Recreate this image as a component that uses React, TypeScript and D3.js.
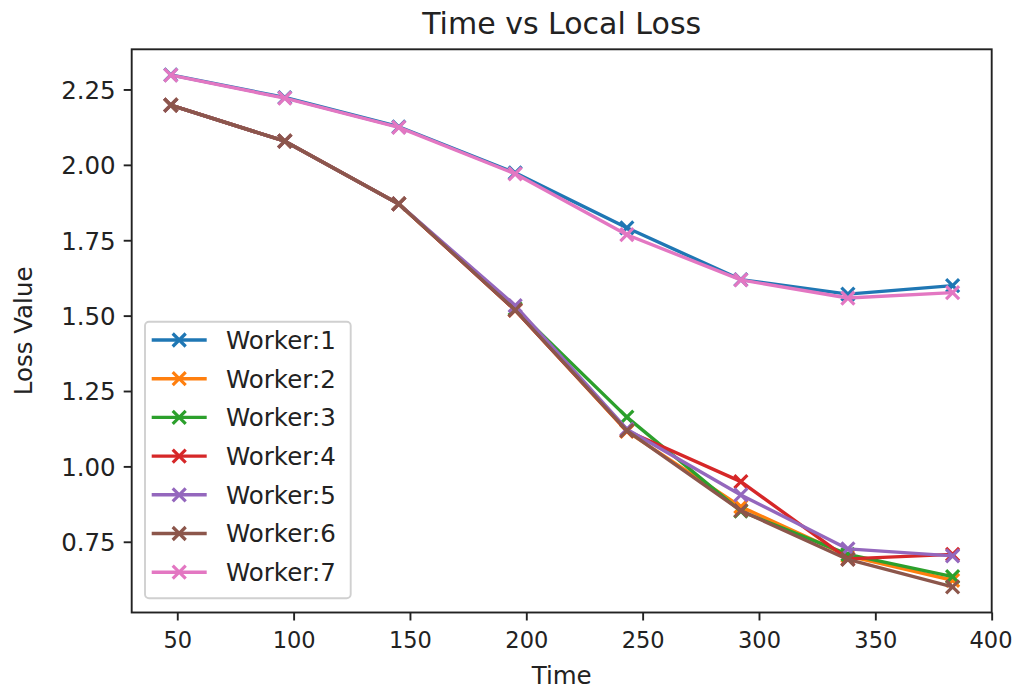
import React from "react";
import * as d3 from "d3";

const times = [47, 96, 145, 195, 243, 292, 338, 383];
const workerNames = ["Worker:1", "Worker:2", "Worker:3", "Worker:4", "Worker:5", "Worker:6", "Worker:7"];
const worker1 = [2.30, 2.225, 2.128, 1.975, 1.793, 1.621, 1.573, 1.601];
const worker2 = [2.20, 2.08, 1.872, 1.52, 1.118, 0.868, 0.705, 0.624];
const worker3 = [2.20, 2.08, 1.872, 1.525, 1.165, 0.853, 0.71, 0.636];
const worker4 = [2.20, 2.08, 1.872, 1.52, 1.12, 0.951, 0.695, 0.71];
const worker5 = [2.20, 2.08, 1.872, 1.535, 1.125, 0.907, 0.728, 0.705];
const worker6 = [2.20, 2.08, 1.872, 1.52, 1.12, 0.855, 0.693, 0.602];
const worker7 = [2.299, 2.223, 2.126, 1.972, 1.77, 1.62, 1.56, 1.578];
const series = [worker1, worker2, worker3, worker4, worker5, worker6, worker7];
const colors = ["#1f77b4", "#ff7f0e", "#2ca02c", "#d62728", "#9467bd", "#8c564b", "#e377c2"];
const xTicks = [50, 100, 150, 200, 250, 300, 350, 400];
const yTicks = [0.75, 1.0, 1.25, 1.5, 1.75, 2.0, 2.25];

const W = 1014, H = 692;
const L = 131.7, R = 991.7, T = 49.3, B = 612.5;
const FONT = "'DejaVu Sans', sans-serif";

function pad(lo: number, hi: number): [number, number] {
  const r = hi - lo;
  return [lo - 0.05 * r, hi + 0.05 * r];
}

export default function App() {
  const xExt = d3.extent(times) as [number, number];
  const allY = series.flat();
  const yExt = d3.extent(allY) as [number, number];
  const x = d3.scaleLinear().domain(pad(xExt[0], xExt[1])).range([L, R]);
  const y = d3.scaleLinear().domain(pad(yExt[0], yExt[1])).range([B, T]);
  const line = d3.line<number>().x((_, i) => x(times[i])).y((d) => y(d));
  const ms = 6.5;
  const cross = (cx: number, cy: number, c: string, key: string) => (
    <path key={key} d={`M${cx - ms},${cy - ms}L${cx + ms},${cy + ms}M${cx - ms},${cy + ms}L${cx + ms},${cy - ms}`} stroke={c} strokeWidth={3.2} fill="none" />
  );
  const legX = 145, legY = 321.7, legW = 205.7, legH = 276.6;
  const rowY0 = 340, rowDy = 38.7;
  const fs = 24.5;
  const fx = 22.5;
  return (
    <svg width={W} height={H} style={{ position: "absolute", left: 0, top: 0, background: "#fff" }} fontFamily={FONT}>
      <rect x={0} y={0} width={W} height={H} fill="#fff" />
      <text x={(L + R) / 2} y={34} textAnchor="middle" fontSize={30} fill="#222">Time vs Local Loss</text>
      {series.map((s, si) => (
        <g key={si}>
          <path d={line(s) || ""} stroke={colors[si]} strokeWidth={3.4} fill="none" strokeLinejoin="round" />
          {s.map((v, i) => cross(x(times[i]), y(v), colors[si], `m${i}`))}
        </g>
      ))}
      <rect x={L} y={T} width={R - L} height={B - T} fill="none" stroke="#222" strokeWidth={1.9} />
      {xTicks.map((t) => (
        <g key={t}>
          <line x1={x(t)} x2={x(t)} y1={B} y2={B + 8} stroke="#222" strokeWidth={1.9} />
          <text x={Math.min(x(t), W - 23)} y={B + 35} textAnchor="middle" fontSize={fx} fill="#222">{t}</text>
        </g>
      ))}
      {yTicks.map((t) => (
        <g key={t}>
          <line x1={L - 8} x2={L} y1={y(t)} y2={y(t)} stroke="#222" strokeWidth={1.9} />
          <text x={L - 16} y={y(t) + 8.8} textAnchor="end" fontSize={fs} fill="#222">{t.toFixed(2)}</text>
        </g>
      ))}
      <text x={(L + R) / 2} y={684} textAnchor="middle" fontSize={fs} fill="#222">Time</text>
      <text transform={`translate(32,${(T + B) / 2}) rotate(-90)`} textAnchor="middle" fontSize={fs} fill="#222">Loss Value</text>
      <rect x={legX} y={legY} width={legW} height={legH} rx={4} fill="#fff" fillOpacity={0.8} stroke="#d0d0d0" strokeWidth={1.9} />
      {workerNames.map((n, i) => {
        const cy = rowY0 + i * rowDy;
        return (
          <g key={n}>
            <line x1={151.7} x2={206.7} y1={cy} y2={cy} stroke={colors[i]} strokeWidth={3.4} />
            {cross(179.2, cy, colors[i], "l" + i)}
            <text x={226} y={cy + 8.8} fontSize={fs} fill="#222">{n}</text>
          </g>
        );
      })}
    </svg>
  );
}
